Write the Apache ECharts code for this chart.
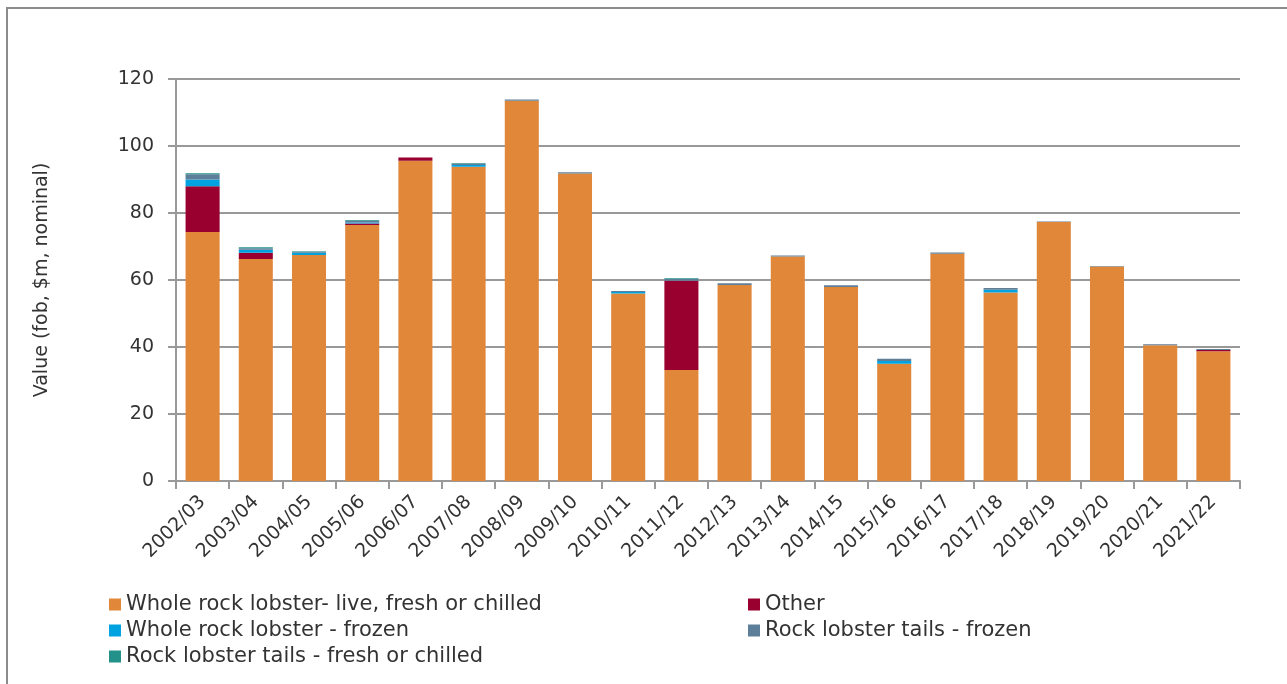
<!DOCTYPE html>
<html>
<head>
<meta charset="utf-8">
<script src="https://cdn.jsdelivr.net/npm/echarts@6/dist/echarts.min.js"></script>
<style>
  html, body { margin: 0; padding: 0; background: #fff; }
  #chart { width: 1287px; height: 684px; }
</style>
</head>
<body>
<div id="chart"></div>
<script>
// Rock lobster export value by product type, fob $m nominal
const years = ['2002/03','2003/04','2004/05','2005/06','2006/07','2007/08','2008/09','2009/10','2010/11','2011/12',
               '2012/13','2013/14','2014/15','2015/16','2016/17','2017/18','2018/19','2019/20','2020/21','2021/22'];

const wholeLive   = [74.3, 66.3, 67.5, 76.4, 95.6, 93.8, 113.5, 91.8, 56.0, 33.1, 58.5, 67.0, 57.9, 35.0, 67.8, 56.3, 77.3, 64.0, 40.5, 38.7];
const other       = [13.7, 1.8, 0, 0.5, 1.0, 0, 0, 0, 0, 26.7, 0, 0, 0, 0, 0, 0, 0, 0, 0, 0.4];
const wholeFrozen = [2.0, 0.9, 0.6, 0.3, 0, 0.5, 0, 0, 0.4, 0, 0, 0, 0, 0.8, 0, 0.8, 0, 0, 0, 0];
const tailsFrozen = [1.6, 0.5, 0.3, 0.5, 0, 0.5, 0.4, 0.4, 0.3, 0.5, 0.5, 0.3, 0.5, 0.7, 0.4, 0.5, 0.2, 0.2, 0.3, 0.3];
const tailsFresh  = [0.3, 0.3, 0.2, 0.2, 0, 0.1, 0, 0, 0, 0.2, 0, 0, 0, 0, 0, 0, 0, 0, 0, 0];

const yTicks = { min: 0, max: 120, interval: 20 };

const names = {
  live: 'Whole rock lobster- live, fresh or chilled',
  other: 'Other',
  frozen: 'Whole rock lobster - frozen',
  tailsFrozen: 'Rock lobster tails - frozen',
  tailsFresh: 'Rock lobster tails - fresh or chilled'
};

const FONT = 'DejaVu Sans';
const TEXT = '#333333';
const GRID = '#999999';

function bar(name, data, color) {
  return {
    name, type: 'bar', stack: 'total', data,
    barWidth: '64%',
    itemStyle: { color },
    emphasis: { disabled: true }
  };
}

const legendCommon = {
  orient: 'vertical', top: 589, itemGap: 5,
  itemWidth: 12, itemHeight: 12, icon: 'rect',
  textStyle: { fontFamily: FONT, fontSize: 21, color: TEXT, padding: [0, 0, 0, 0] }
};

const chart = echarts.init(document.getElementById('chart'), null, { renderer: 'canvas' });
chart.setOption({
  animation: false,
  backgroundColor: '#fff',
  textStyle: { fontFamily: FONT, color: TEXT },
  graphic: [{
    type: 'rect',
    shape: { x: 7, y: 8, width: 1300, height: 700 },
    style: { fill: 'none', stroke: '#8c8c8c', lineWidth: 2 },
    silent: true
  }],
  grid: { left: 176, right: 47, top: 79, bottom: 203, containLabel: false },
  legend: [
    Object.assign({}, legendCommon, { left: 104, data: [names.live, names.frozen, names.tailsFresh] }),
    Object.assign({}, legendCommon, { left: 743, data: [names.other, names.tailsFrozen] })
  ],
  xAxis: {
    type: 'category', data: years,
    axisLine: { lineStyle: { color: GRID, width: 2 } },
    axisTick: { show: true, alignWithLabel: false, length: 8, lineStyle: { color: GRID, width: 2 } },
    axisLabel: { rotate: 45, fontFamily: FONT, fontSize: 19, color: TEXT, margin: 18, interval: 0 }
  },
  yAxis: {
    type: 'value', min: yTicks.min, max: yTicks.max, interval: yTicks.interval,
    name: 'Value (fob, $m, nominal)', nameLocation: 'middle', nameGap: 124, nameRotate: 90,
    nameTextStyle: { fontFamily: FONT, fontSize: 19, color: TEXT },
    axisLine: { show: true, lineStyle: { color: GRID, width: 2 } },
    axisTick: { show: true, length: 8, lineStyle: { color: GRID, width: 2 } },
    axisLabel: { fontFamily: FONT, fontSize: 19, color: TEXT, margin: 22 },
    splitLine: { lineStyle: { color: GRID, width: 2 } }
  },
  series: [
    bar(names.live, wholeLive, '#E0873A'),
    bar(names.other, other, '#990030'),
    bar(names.frozen, wholeFrozen, '#00A2DF'),
    bar(names.tailsFrozen, tailsFrozen, '#5E7F99'),
    bar(names.tailsFresh, tailsFresh, '#23918A')
  ]
});
</script>
</body>
</html>
